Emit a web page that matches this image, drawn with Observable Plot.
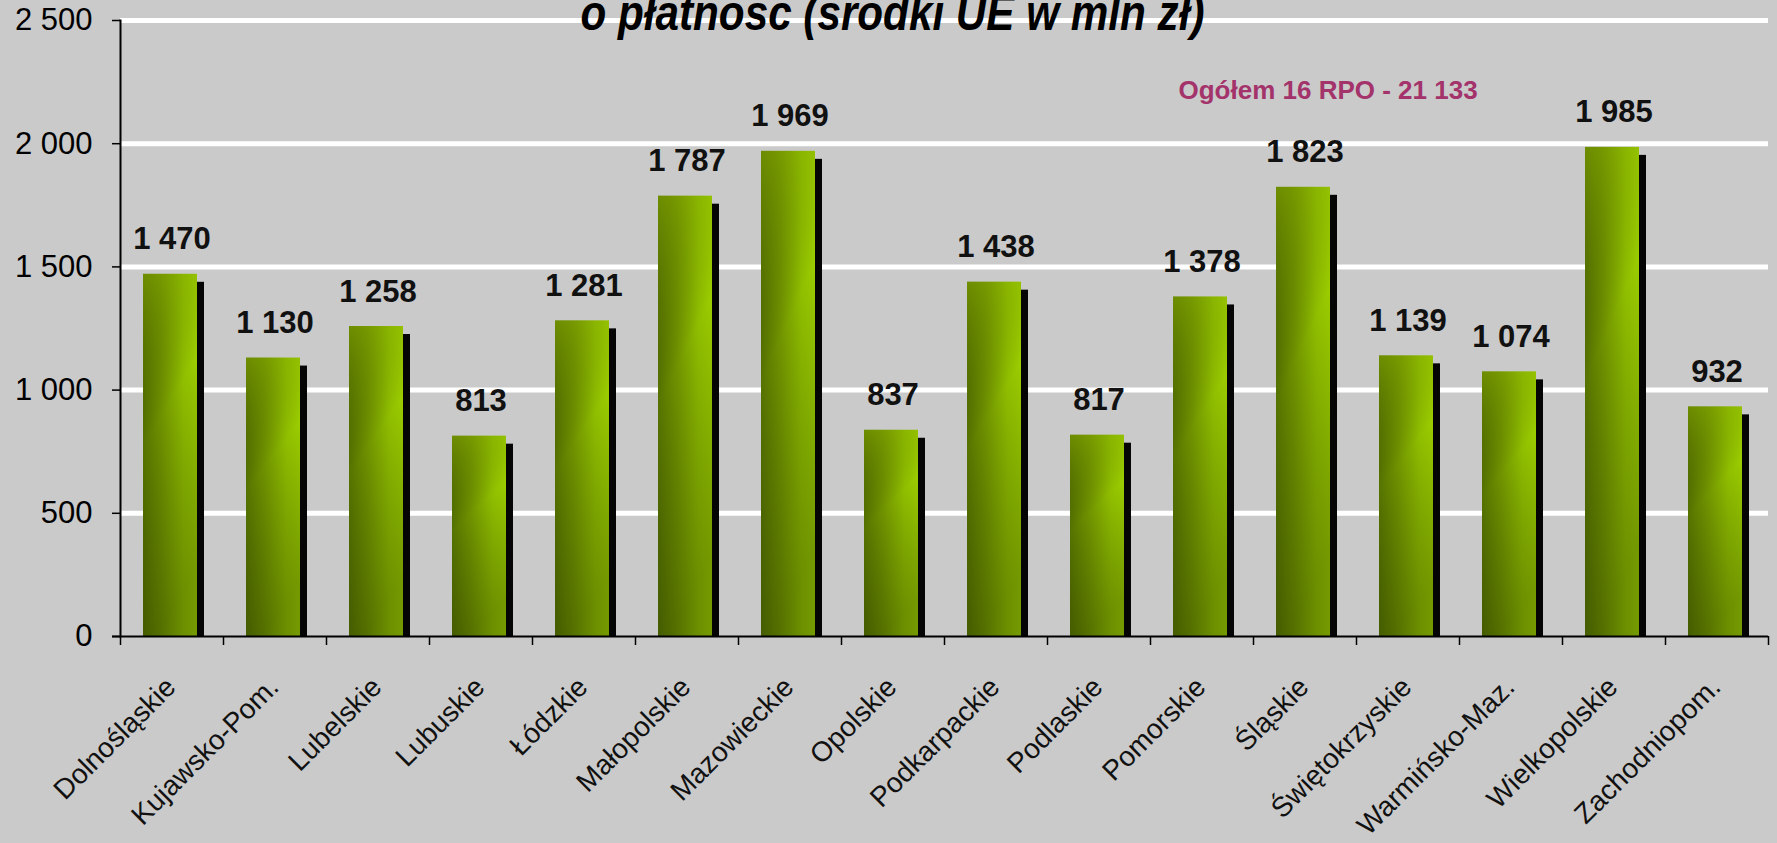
<!DOCTYPE html>
<html>
<head>
<meta charset="utf-8">
<script src="https://cdn.jsdelivr.net/npm/d3@7"></script>
<script src="https://cdn.jsdelivr.net/npm/@observablehq/plot@0.6"></script>
<style>
  html, body { margin: 0; padding: 0; background: #cacaca; }
  #chart svg { display: block; }
</style>
</head>
<body>
<div id="chart"></div>
<script>
const regions = ["Dolnośląskie", "Kujawsko-Pom.", "Lubelskie", "Lubuskie", "Łódzkie", "Małopolskie", "Mazowieckie", "Opolskie", "Podkarpackie", "Podlaskie", "Pomorskie", "Śląskie", "Świętokrzyskie", "Warmińsko-Maz.", "Wielkopolskie", "Zachodniopom."];
const values = [1470, 1130, 1258, 813, 1281, 1787, 1969, 837, 1438, 817, 1378, 1823, 1139, 1074, 1985, 932];
const yTicks = [0, 500, 1000, 1500, 2000, 2500];
const gridValues = [500, 1000, 1500, 2000, 2500];
const titleText = "o płatnosc (srodki UE w mln zł)";
const totalText = "Ogółem 16 RPO - 21 133";

const data = regions.map((r, i) => ({region: r, value: values[i]}));

const W = 1777, H = 843, ML = 120, MR = 9, MT = 20, MB = 207;
const bw = (W - ML - MR) / regions.length;
const font = "'Liberation Sans', Arial, sans-serif";
const fmt = d3.formatLocale({decimal: ",", thousands: " ", grouping: [3], currency: ["", ""]}).format(",d");

const chart = Plot.plot({
  width: W,
  height: H,
  marginLeft: ML,
  marginRight: MR,
  marginTop: MT,
  marginBottom: MB,
  style: {background: "#cacaca", fontFamily: font, color: "black", overflow: "hidden"},
  x: {domain: regions, padding: 0, axis: null},
  y: {domain: [0, 2500], axis: null},
  marks: [
    Plot.ruleY(gridValues, {stroke: "white", strokeWidth: 5}),
    Plot.barY(data, {x: "region", y: "value", fill: "url(#barGrad)", insetLeft: 23, insetRight: 26}),
    Plot.barY(data, {x: "region", y: "value", fill: "url(#barShade)", insetLeft: 23, insetRight: 26}),
    Plot.barY(data, {x: "region", y: "value", fill: "#050505", insetLeft: 77, insetRight: 19, insetTop: 8}),
    Plot.frame({anchor: "left", stroke: "black", strokeWidth: 2}),
    Plot.ruleY([0], {stroke: "black", strokeWidth: 2, insetLeft: -8}),
    Plot.axisY({ticks: yTicks, tickSize: 8, tickPadding: 20, tickFormat: fmt, fontSize: 31, strokeWidth: 1.5, label: null}),
    Plot.axisX({tickSize: 9, tickFormat: () => "", dx: -bw / 2, strokeWidth: 1.5, label: null}),
    Plot.axisX({ticks: [regions[regions.length - 1]], tickSize: 9, tickFormat: () => "", dx: bw / 2, strokeWidth: 1.5, label: null}),
    Plot.text(data, {x: "region", y: "value", text: d => fmt(d.value), dy: -25, lineAnchor: "bottom", fontSize: 31, fontWeight: "bold", fill: "#111"}),
    Plot.text(regions, {x: d => d, frameAnchor: "bottom", rotate: -45, textAnchor: "end", lineAnchor: "middle", dy: 46, dx: -1, fontSize: 28, fill: "#111"}),
    Plot.text([titleText], {frameAnchor: "top", dx: -52, dy: 9, lineAnchor: "bottom", fontSize: 50, fontWeight: "bold", fontStyle: "italic", fill: "black", className: "chart-title"}),
    Plot.text([totalText], {frameAnchor: "top-left", dx: 1058, dy: 78, textAnchor: "start", lineAnchor: "bottom", fontSize: 26, fontWeight: "bold", fill: "#a3336a"})
  ]
});

const svg = d3.select(chart);
const defs = svg.insert("defs", ":first-child");
const g1 = defs.append("linearGradient").attr("id", "barGrad").attr("x1", 0).attr("y1", 0).attr("x2", 1).attr("y2", 0);
g1.append("stop").attr("offset", "0%").attr("stop-color", "#557200");
g1.append("stop").attr("offset", "35%").attr("stop-color", "#6f9200");
g1.append("stop").attr("offset", "75%").attr("stop-color", "#8fbe00");
g1.append("stop").attr("offset", "100%").attr("stop-color", "#9ccd00");
const g2 = defs.append("linearGradient").attr("id", "barShade").attr("x1", 0).attr("y1", 0).attr("x2", 0.25).attr("y2", 1);
g2.append("stop").attr("offset", "0%").attr("stop-color", "#b8e000").attr("stop-opacity", 0.25);
g2.append("stop").attr("offset", "45%").attr("stop-color", "#000").attr("stop-opacity", 0);
g2.append("stop").attr("offset", "100%").attr("stop-color", "#1a2400").attr("stop-opacity", 0.3);

svg.selectAll(".chart-title text").attr("textLength", 624).attr("lengthAdjust", "spacingAndGlyphs");

document.getElementById("chart").appendChild(chart);
</script>
</body>
</html>
